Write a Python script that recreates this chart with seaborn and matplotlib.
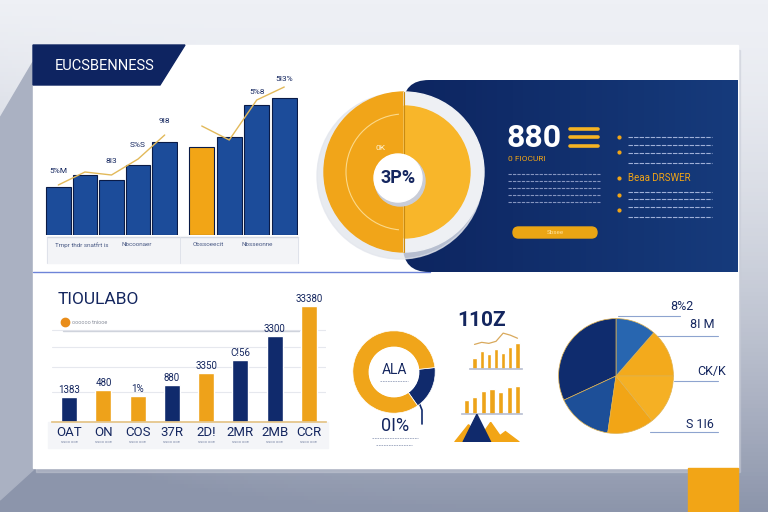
import numpy as np
import matplotlib
matplotlib.use('Agg')
import matplotlib.pyplot as plt
import seaborn as sns
from matplotlib.patches import Rectangle, Polygon, Circle, Wedge, FancyBboxPatch, Arc
import matplotlib.colors as mcolors

sns.set_theme(style='white')
plt.rcParams['font.family'] = ['Roboto', 'DejaVu Sans']

NAVY = '#102a6c'
BLUE = '#1c4c9a'
GOLD = '#f2a516'
GOLD2 = '#f8b62a'
INK = '#14265f'
NARROW = ['Roboto', 'DejaVu Sans']
W, H = 768, 512

###############################################################################
# Data
###############################################################################
TOP_L_CATS = ['a1', 'a2', 'a3', 'a4', 'a5']
TOP_L_VALS = [48, 60, 55, 70, 93]
TOP_L_TREND = [50, 63, 60, 76, 100]
TOP_L_LBLS = ['5%M', '', '8I3', 'S%S', '9I8']
TOP_L_GROUP = ['A', 'A', 'A', 'A', 'A']
TOP_R_CATS = ['b1', 'b2', 'b3', 'b4']
TOP_R_VALS = [88, 98, 130, 137]
TOP_R_TREND = [109, 95, 135, 148]
TOP_R_LBLS = ['', '', '5%8', '5I3%']
TOP_R_GROUP = ['B', 'A', 'A', 'A']
TOP_NOTES = ['Tmpr thdr snatfrt is', 'Nbcoonaer', 'Obssoeecit', 'Nbsseonne']

BOT_CATS = ['OAT', 'ON', 'COS', '37R', '2D!', '2MR', '2MB', 'CCR']
BOT_VALS = [25, 32, 26, 37, 49, 62, 86, 116]
BOT_LBLS = ['1383', '480', '1%', '880', '3350', 'C!56', '3300', '33380']
BOT_GROUP = ['A', 'B', 'B', 'A', 'B', 'A', 'A', 'B']

DONUT_VALS = [17, 83]
PIE_VALS = [13.6, 11.4, 31.9, 15.8, 13.1, 14.2]
PIE_LBLS = ['8%2', '8I M', 'CK/K', 'S 1I6']

MINI1_VALS = [11, 18, 15, 20, 16, 21, 25]
MINI1_LINE = [24, 26, 25, 27, 35, 33, 30]
MINI2_VALS = [12, 15, 20, 22, 19, 24, 25]
MTN_X = [0.9, 1.35, 2.1, 2.9]
MTN_H = [15, 24, 17, 9]
MTN_GROUP = ['B', 'A', 'B', 'B']

PAL = {'A': BLUE, 'B': GOLD}


def px(x0, y0, x1, y1):
    return [x0 / W, 1 - y1 / H, (x1 - x0) / W, (y1 - y0) / H]


def clean(ax):
    ax.set_xlabel('')
    ax.set_ylabel('')
    ax.set_xticks([])
    ax.set_yticks([])
    sns.despine(ax=ax, left=True, bottom=True)
    ax.patch.set_alpha(0)


fig = plt.figure(figsize=(7.68, 5.12), dpi=100)
bg = fig.add_axes([0, 0, 1, 1])
bg.set_xlim(0, W)
bg.set_ylim(H, 0)
bg.axis('off')

# background gradient ---------------------------------------------------------
t = np.linspace(0, 1, 128)[:, None]
s = np.linspace(0, 1, 192)[None, :]
top = np.array(mcolors.to_rgb('#eef0f5'))
bot = np.array(mcolors.to_rgb('#8c95ab'))
mix = np.clip(t ** 1.6 + 0.35 * (1 - s) ** 6 * t, 0, 1)
img = top[None, None, :] * (1 - mix[..., None]) + bot[None, None, :] * mix[..., None]
bg.imshow(img, extent=[0, W, H, 0], aspect='auto', zorder=0)

bg.add_patch(Polygon([(0, 118), (33, 62), (33, 470), (0, 500)], color='#aab1c2', zorder=1))
bg.add_patch(Rectangle((36, 50), 704, 422, color='#c8ccd7', alpha=0.45, zorder=1))
bg.add_patch(Rectangle((33, 45), 705, 423, color='white', zorder=2))
bg.add_patch(Rectangle((688, 468), 50, 44, color=GOLD, zorder=2))

# banner
bg.add_patch(Polygon([(33, 45), (185, 45), (160, 85), (33, 85)], color='#0e2461', zorder=3))
bg.text(55, 66, 'EUCSBENNESS', color='white', fontsize=10.5, family=NARROW, va='center', zorder=4)

# separators
bg.plot([33, 430], [272, 272], color='#4a66cf', lw=1, alpha=0.8, zorder=3)
bg.add_patch(Rectangle((47, 237), 251, 26, color='#f3f4f7', zorder=3))
bg.plot([47, 298], [237, 237], color='#d5d9e2', lw=1, zorder=3)
for xx in (47, 180, 298):
    bg.plot([xx, xx], [237, 263], color='#dfe2ea', lw=0.7, zorder=3)

# navy panel with gradient -------------------------------------------------------
panel = FancyBboxPatch((403, 80), 360, 192, boxstyle='round,pad=0,rounding_size=26',
                       facecolor='none', edgecolor='none', zorder=3)
bg.add_patch(panel)
grad = np.linspace(0, 1, 64)[None, :]
c1 = np.array(mcolors.to_rgb('#0d2560'))
c2 = np.array(mcolors.to_rgb('#163b7c'))
gimg = c1[None, None, :] * (1 - grad[..., None]) + c2[None, None, :] * grad[..., None]
gim = bg.imshow(gimg, extent=[403, 738, 272, 80], aspect='auto', zorder=3)
gim.set_clip_path(panel)

# big circle
bg.add_patch(Circle((400, 176), 83, color='#e3e6ed', alpha=0.8, zorder=4))
bg.add_patch(Wedge((404, 172), 80, 90, 270, color='#f1a519', zorder=5))
bg.add_patch(Wedge((404, 172), 80, -90, 90, color='#eef0f4', zorder=5))
bg.add_patch(Wedge((404, 172), 66, -90, 90, color=GOLD2, zorder=5))
bg.add_patch(Arc((404, 172), 116, 116, theta1=95, theta2=265, color='#fbd98a', lw=0.8, zorder=6))
bg.plot([404, 404], [92, 252], color='#c98a10', lw=0.8, zorder=6)
bg.add_patch(Circle((400, 181), 25, color='#c9cdd8', zorder=6))
bg.add_patch(Circle((398, 178), 24, color='white', zorder=7))
bg.text(398, 178, '3P%', color=INK, fontsize=13, fontweight='bold', ha='center', va='center', zorder=8)
bg.text(380, 148, '0K', color='#fff4d6', fontsize=6, ha='center', va='center', zorder=8)

# panel texts
bg.text(507, 138, '880', color='white', fontsize=23, fontweight='bold', va='center', zorder=8)
for yy in (129, 137, 146):
    bg.plot([570, 598], [yy, yy], color='#f5b323', lw=2.6, solid_capstyle='round', zorder=8)
bg.text(508, 159, '0 FIOCURI', color=GOLD, fontsize=6, va='center', zorder=8)
for yy in (174, 181, 188, 195, 202):
    bg.plot([508, 600], [yy, yy], color='#8595c0', lw=0.8, ls=(0, (3, 1)), zorder=8)
for yy in (137, 145, 153, 163, 192, 199, 207, 217):
    bg.plot([628, 712], [yy, yy], color='#9fb0d8', lw=0.8, ls=(0, (4, 1)), zorder=8)
for yy in (137, 152, 178, 195, 210):
    bg.plot([619], [yy], marker='o', ms=2, color=GOLD, zorder=8)
bg.text(628, 178, 'Beaa DRSWER', color=GOLD, fontsize=7, va='center', zorder=8)
bg.add_patch(FancyBboxPatch((513, 227), 84, 11, boxstyle='round,pad=0,rounding_size=5.5',
                            color='#eaa514', zorder=8))
bg.text(555, 232.5, 'Sbsee', color='#ffe29a', fontsize=4.5, ha='center', va='center', zorder=9)

###############################################################################
# Top bar charts
###############################################################################
axL = fig.add_axes(px(45, 75, 178, 235))
sns.barplot(x=TOP_L_CATS, y=TOP_L_VALS, hue=TOP_L_GROUP, palette=PAL, width=0.92, saturation=1,
            edgecolor='#0a1b47', linewidth=0.8, legend=False, ax=axL)
sns.lineplot(x=range(len(TOP_L_TREND)), y=TOP_L_TREND, color='#e2b95a', lw=1, ax=axL)
for i, (v, l) in enumerate(zip(TOP_L_TREND, TOP_L_LBLS)):
    if l:
        axL.text(i, v + 12, l, color=INK, fontsize=6, ha='center', family=NARROW)
axL.set_ylim(0, 160)
axL.set_xlim(-0.5, len(TOP_L_CATS) - 0.5)
clean(axL)

axR = fig.add_axes(px(188, 75, 298, 235))
sns.barplot(x=TOP_R_CATS, y=TOP_R_VALS, hue=TOP_R_GROUP, palette=PAL, width=0.92, saturation=1,
            edgecolor='#0a1b47', linewidth=0.8, legend=False, ax=axR)
sns.lineplot(x=range(len(TOP_R_TREND)), y=TOP_R_TREND, color='#e2b95a', lw=1, ax=axR)
for i, (v, l) in enumerate(zip(TOP_R_TREND, TOP_R_LBLS)):
    if l:
        axR.text(i, v + 6, l, color=INK, fontsize=6, ha='center', family=NARROW)
axR.set_ylim(0, 160)
axR.set_xlim(-0.5, len(TOP_R_CATS) - 0.5)
clean(axR)

for (xx, note) in zip((55, 122, 193, 242), TOP_NOTES):
    bg.text(xx, 245, note, color='#4a5a85', fontsize=4.5, va='center', zorder=4)

###############################################################################
# Bottom bar chart
###############################################################################
bg.text(58, 300, 'TIOULABO', color=INK, fontsize=12.5, family=NARROW, va='center', zorder=4)
bg.plot([65], [322], marker='o', ms=6, color='#e98d1a', zorder=4)
bg.text(72, 322, 'oooooo tniooe', color='#8a8f9c', fontsize=4, va='center', zorder=4)
bg.add_patch(Rectangle((48, 422), 280, 26, color='#f4f5f8', zorder=3))

axB = fig.add_axes(px(52, 300, 326, 422))
for gy in (30, 55, 75, 92):
    axB.axhline(gy, color='#e6e8ee', lw=0.8, zorder=0)
axB.axhline(91, xmin=0.04, xmax=0.9, color='#cfd3dc', lw=1, zorder=0)
sns.barplot(x=BOT_CATS, y=BOT_VALS, hue=BOT_GROUP, palette={'A': NAVY, 'B': '#eea21a'},
            width=0.47, saturation=1, legend=False, ax=axB)
for i, (v, l) in enumerate(zip(BOT_VALS, BOT_LBLS)):
    axB.text(i, v + 4, l, color=INK, fontsize=7, ha='center', family=NARROW)
axB.set_ylim(0, 122)
axB.set_xlim(-0.5, len(BOT_CATS) - 0.5)
clean(axB)
axB.spines['bottom'].set_visible(True)
axB.spines['bottom'].set_color('#e4c488')
for i, c in enumerate(BOT_CATS):
    axB.text(i, -11, c, color=INK, fontsize=9.5, ha='center', va='center', family=NARROW)
    axB.text(i, -20, 'ssoo ooe', color='#7a86a5', fontsize=3, ha='center', va='center')

###############################################################################
# Donut
###############################################################################
axD = fig.add_axes(px(352, 330, 436, 414))
axD.pie(DONUT_VALS, colors=[NAVY, '#f0a51a'], startangle=-55, counterclock=True,
        wedgeprops=dict(width=0.4, edgecolor='white', linewidth=0.5))
axD.add_patch(Circle((0, 0), 0.6, color='white', zorder=3))
axD.text(0, 0.05, 'ALA', color=INK, fontsize=10, ha='center', va='center', family=NARROW, zorder=4)
axD.plot([-0.35, 0.35], [-0.22, -0.22], color='#9aa4bd', lw=0.6, ls=(0, (2, 1)), zorder=4)
axD.set_xlim(-1.02, 1.02)
axD.set_ylim(-1.02, 1.02)
axD.set_aspect('equal')
bg.plot([418, 422, 422], [400, 410, 424], color=NAVY, lw=1.2, zorder=4)
bg.text(395, 426, '0I%', color=INK, fontsize=13, ha='center', va='center', family=NARROW, zorder=4)
bg.plot([372, 418], [438, 438], color='#9aa4bd', lw=0.6, ls=(0, (2, 1)), zorder=4)
bg.plot([376, 412], [445, 445], color='#9aa4bd', lw=0.6, ls=(0, (2, 1)), zorder=4)

###############################################################################
# Mini charts
###############################################################################
bg.text(457, 321, '110Z', color=INK, fontsize=15, fontweight='bold', family=NARROW,
        va='center', zorder=4)
axM1 = fig.add_axes(px(470, 328, 522, 369))
sns.barplot(x=list(range(len(MINI1_VALS))), y=MINI1_VALS, color='#eda419', width=0.6,
            saturation=1, ax=axM1)
sns.lineplot(x=range(len(MINI1_LINE)), y=MINI1_LINE, color='#d9a95c', lw=0.9, ax=axM1)
axM1.set_ylim(0, 40)
clean(axM1)
axM1.spines['bottom'].set_visible(True)
axM1.spines['bottom'].set_color('#b9c0d3')

axM2 = fig.add_axes(px(462, 380, 522, 414))
sns.barplot(x=list(range(len(MINI2_VALS))), y=MINI2_VALS, color='#eda419', width=0.6,
            saturation=1, ax=axM2)
axM2.set_ylim(0, 30)
clean(axM2)
axM2.spines['bottom'].set_visible(True)
axM2.spines['bottom'].set_color('#b9c0d3')

axT = fig.add_axes(px(452, 412, 522, 442))
for mx, mh, g in zip(MTN_X, MTN_H, MTN_GROUP):
    axT.fill([mx - 0.75, mx, mx + 0.75], [0, mh, 0], color=NAVY if g == 'A' else GOLD,
             zorder=3 if g == 'A' else 2)
axT.set_xlim(0, 3.8)
axT.set_ylim(0, 26)
clean(axT)

###############################################################################
# Pie
###############################################################################
axP = fig.add_axes(px(558, 318, 674, 434))
axP.pie(PIE_VALS, colors=['#f3aa1c', '#2866b0', '#0f2c6e', '#1d4f98', '#f2a516', '#f5b024'],
        startangle=0, counterclock=True,
        wedgeprops=dict(edgecolor='#e0b24f', linewidth=0.5))
axP.set_xlim(-1.01, 1.01)
axP.set_ylim(-1.01, 1.01)
axP.set_aspect('equal')
for (xl, yl, tx, ty, lbl) in [((618, 680), 316, 670, 306, PIE_LBLS[0]),
                              ((655, 718), 336, 690, 325, PIE_LBLS[1]),
                              ((674, 718), 381, 697, 372, PIE_LBLS[2]),
                              ((650, 718), 432, 686, 424, PIE_LBLS[3])]:
    bg.plot(list(xl), [yl, yl], color='#8ea4cf', lw=0.8, zorder=4)
    bg.text(tx, ty, lbl, color=INK, fontsize=9, family=NARROW, va='center', zorder=4)

fig.savefig('out.png', dpi=100)
